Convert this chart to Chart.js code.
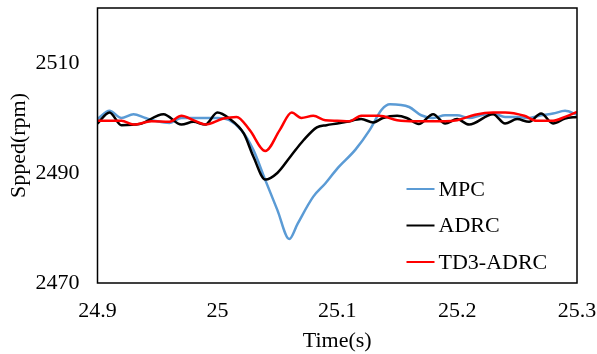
<!DOCTYPE html>
<html>
<head>
<meta charset="utf-8">
<script src="https://cdn.jsdelivr.net/npm/chart.js@4/dist/chart.umd.min.js"></script>
<style>
  body { margin: 0; background: #fff; }
  #wrap { width: 597px; height: 354px; }
</style>
</head>
<body>
<div id="wrap"><canvas id="grafico" width="597" height="354"></canvas></div>
<script>
// datos
const tiempoMPC = [24.9, 24.91, 24.92, 24.93, 24.94, 24.95, 24.96, 24.97, 24.98, 24.99, 25.0, 25.01, 25.02, 25.03, 25.04, 25.05, 25.06, 25.067, 25.08, 25.09, 25.1, 25.115, 25.127, 25.137, 25.144, 25.16, 25.17, 25.18, 25.19, 25.2, 25.21, 25.22, 25.23, 25.24, 25.25, 25.26, 25.27, 25.28, 25.29, 25.3];
const velMPC = [2499.8, 2501.3, 2500.0, 2500.7, 2500.0, 2499.4, 2499.1, 2500.0, 2500.0, 2500.0, 2500.0, 2499.6, 2497.8, 2494.2, 2488.7, 2483.3, 2478.0, 2480.8, 2485.7, 2488.1, 2490.8, 2494.2, 2497.8, 2501.5, 2502.5, 2502.0, 2500.5, 2500.0, 2500.5, 2500.5, 2500.0, 2500.5, 2500.8, 2500.2, 2500.2, 2500.0, 2500.5, 2500.8, 2501.3, 2500.6];

const tiempoADRC = [24.9, 24.91, 24.92, 24.935, 24.955, 24.97, 24.98, 24.99, 25.0, 25.01, 25.022, 25.03, 25.04, 25.05, 25.061, 25.072, 25.083, 25.091, 25.1, 25.108, 25.12, 25.13, 25.138, 25.15, 25.158, 25.168, 25.18, 25.19, 25.2, 25.21, 25.23, 25.24, 25.25, 25.26, 25.27, 25.28, 25.29, 25.3];
const velADRC = [2499.0, 2501.0, 2498.7, 2498.9, 2500.7, 2498.8, 2499.3, 2498.8, 2501.0, 2499.9, 2497.2, 2493.0, 2488.8, 2490.0, 2493.0, 2496.0, 2498.3, 2498.7, 2499.0, 2499.3, 2499.8, 2499.2, 2500.0, 2500.4, 2500.0, 2498.9, 2500.7, 2499.0, 2499.8, 2498.8, 2500.7, 2499.0, 2499.8, 2499.3, 2500.8, 2499.0, 2499.9, 2500.2];

const tiempoTD3 = [24.9, 24.92, 24.93, 24.945, 24.96, 24.97, 24.98, 24.99, 25.005, 25.016, 25.027, 25.04, 25.052, 25.062, 25.07, 25.08, 25.09, 25.1, 25.11, 25.12, 25.135, 25.15, 25.165, 25.19, 25.2, 25.215, 25.23, 25.24, 25.256, 25.266, 25.28, 25.29, 25.3];
const velTD3 = [2499.5, 2499.5, 2498.8, 2499.4, 2499.3, 2500.4, 2499.6, 2498.8, 2499.9, 2500.2, 2497.8, 2494.0, 2497.8, 2501.0, 2500.0, 2500.4, 2499.6, 2499.5, 2499.4, 2500.4, 2500.4, 2499.6, 2499.4, 2499.4, 2499.6, 2500.6, 2501.0, 2501.0, 2500.4, 2499.5, 2499.5, 2500.2, 2501.1];

const etiquetas = ['MPC', 'ADRC', 'TD3-ADRC'];
const ticksX = [24.9, 25, 25.1, 25.2, 25.3];
const ticksY = [2470, 2490, 2510];

const fuente = "'Liberation Serif', 'Times New Roman', serif";

function puntos(ts, vs) {
    return ts.map((t, i) => ({ x: t, y: vs[i] }));
}

const marcoPlugin = {
    id: 'marco',
    afterDraw(chart) {
        const a = chart.chartArea, ctx = chart.ctx;
        ctx.save();
        ctx.strokeStyle = '#000';
        ctx.lineWidth = 1.5;
        ctx.strokeRect(a.left, a.top, a.right - a.left, a.bottom - a.top);
        ctx.restore();
    }
};

const leyendaPlugin = {
    id: 'leyenda',
    afterDraw(chart) {
        const ctx = chart.ctx, a = chart.chartArea;
        const x0 = a.left + 309, y0 = a.top + 181, paso = 36.5;
        ctx.save();
        ctx.font = '22px ' + fuente;
        ctx.textBaseline = 'middle';
        ctx.fillStyle = '#000';
        chart.data.datasets.forEach((ds, i) => {
            const y = y0 + i * paso;
            ctx.strokeStyle = ds.borderColor;
            ctx.lineWidth = 2;
            ctx.beginPath(); ctx.moveTo(x0, y); ctx.lineTo(x0 + 28, y); ctx.stroke();
            ctx.fillText(ds.label, x0 + 32, y + 1);
        });
        ctx.restore();
    }
};

function initGrafico() {
    const ctx = document.getElementById('grafico').getContext('2d');
    new Chart(ctx, {
        type: 'line',
        data: {
            datasets: [
                { label: etiquetas[0], data: puntos(tiempoMPC, velMPC), borderColor: '#5B9BD5', order: 3 },
                { label: etiquetas[1], data: puntos(tiempoADRC, velADRC), borderColor: '#000000', order: 2 },
                { label: etiquetas[2], data: puntos(tiempoTD3, velTD3), borderColor: '#FF0000', order: 1 }
            ].map(d => Object.assign(d, { borderWidth: 2.5, pointRadius: 0, fill: false, cubicInterpolationMode: 'monotone' }))
        },
        options: {
            responsive: false,
            animation: false,
            layout: { padding: { top: 8, right: 20, left: 0, bottom: 0 } },
            plugins: { legend: { display: false }, tooltip: { enabled: false } },
            scales: {
                x: {
                    type: 'linear', min: 24.9, max: 25.3,
                    grid: { display: false, drawTicks: false },
                    border: { display: false },
                    afterBuildTicks: ax => { ax.ticks = ticksX.map(v => ({ value: v })); },
                    afterFit: ax => { ax.height = 71; ax.paddingLeft = 0; ax.paddingRight = 0; },
                    ticks: { color: '#000', font: { family: fuente, size: 22 }, padding: 15, maxRotation: 0,
                             callback: v => String(v) },
                    title: { display: true, text: 'Time(s)', color: '#000', font: { family: fuente, size: 22 }, padding: 0 }
                },
                y: {
                    min: 2470, max: 2520,
                    grid: { display: false, drawTicks: false },
                    border: { display: false },
                    afterBuildTicks: ax => { ax.ticks = ticksY.map(v => ({ value: v })); },
                    afterFit: ax => { ax.width = 97.5; ax.paddingTop = 0; ax.paddingBottom = 0; },
                    ticks: { color: '#000', font: { family: fuente, size: 22 }, padding: 18,
                             callback: v => String(v) },
                    title: { display: true, text: 'Spped(rpm)', color: '#000', font: { family: fuente, size: 22 }, padding: { top: 6 } }
                }
            }
        },
        plugins: [marcoPlugin, leyendaPlugin]
    });
}

window.onload = initGrafico;
</script>
</body>
</html>
